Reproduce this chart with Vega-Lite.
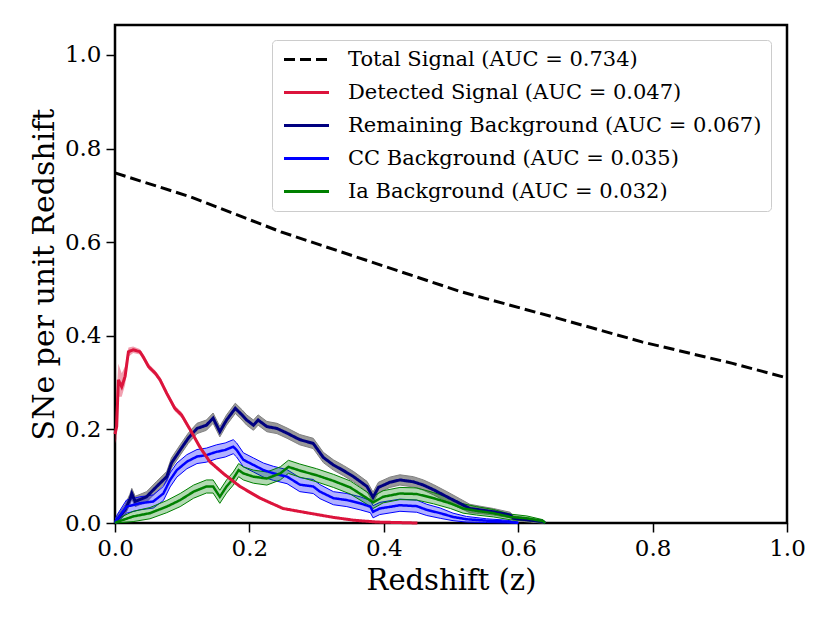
{
  "$schema": "https://vega.github.io/schema/vega-lite/v6.json",
  "width": 672,
  "height": 498,
  "autosize": "none",
  "padding": {"left": 115, "top": 25, "right": 43, "bottom": 100},
  "config": {
    "view": {"stroke": "black", "strokeWidth": 2.5},
    "font": "DejaVu Serif",
    "axis": {
      "domain": false,
      "grid": false,
      "labelFlush": false,
      "tickColor": "black",
      "tickSize": 9,
      "tickWidth": 1.5,
      "labelFont": "DejaVu Serif",
      "labelFontSize": 23,
      "labelColor": "black",
      "labelPadding": 5,
      "titleFont": "DejaVu Serif",
      "titleFontSize": 29,
      "titleFontWeight": "normal",
      "titleColor": "black"
    }
  },
  "datasets": {
    "total": [
      {"z": 0.0, "y": 0.748},
      {"z": 0.112, "y": 0.697},
      {"z": 0.247, "y": 0.622},
      {"z": 0.381, "y": 0.558},
      {"z": 0.515, "y": 0.494},
      {"z": 0.65, "y": 0.441},
      {"z": 0.784, "y": 0.387},
      {"z": 0.919, "y": 0.341},
      {"z": 1.0, "y": 0.31}
    ],
    "detected": [
      {"z": 0.0, "y": 0.19, "lo": 0.17, "hi": 0.21},
      {"z": 0.0025, "y": 0.206, "lo": 0.18, "hi": 0.28},
      {"z": 0.005, "y": 0.306, "lo": 0.27, "hi": 0.34},
      {"z": 0.01, "y": 0.291, "lo": 0.27, "hi": 0.32},
      {"z": 0.015, "y": 0.313, "lo": 0.295, "hi": 0.335},
      {"z": 0.02, "y": 0.366, "lo": 0.355, "hi": 0.375},
      {"z": 0.027, "y": 0.37, "lo": 0.363, "hi": 0.377},
      {"z": 0.037, "y": 0.366, "lo": 0.36, "hi": 0.372},
      {"z": 0.042, "y": 0.355, "lo": 0.349, "hi": 0.361},
      {"z": 0.05, "y": 0.334, "lo": 0.328, "hi": 0.34},
      {"z": 0.06, "y": 0.32, "lo": 0.314, "hi": 0.326},
      {"z": 0.067, "y": 0.306, "lo": 0.3, "hi": 0.312},
      {"z": 0.077, "y": 0.277, "lo": 0.271, "hi": 0.283},
      {"z": 0.089, "y": 0.245, "lo": 0.239, "hi": 0.251},
      {"z": 0.099, "y": 0.231, "lo": 0.225, "hi": 0.237},
      {"z": 0.112, "y": 0.199, "lo": 0.194, "hi": 0.204},
      {"z": 0.126, "y": 0.163, "lo": 0.158, "hi": 0.168},
      {"z": 0.141, "y": 0.131, "lo": 0.127, "hi": 0.135},
      {"z": 0.161, "y": 0.106, "lo": 0.102, "hi": 0.11},
      {"z": 0.186, "y": 0.078, "lo": 0.075, "hi": 0.081},
      {"z": 0.216, "y": 0.053, "lo": 0.05, "hi": 0.056},
      {"z": 0.25, "y": 0.031, "lo": 0.029, "hi": 0.033},
      {"z": 0.285, "y": 0.022, "lo": 0.02, "hi": 0.024},
      {"z": 0.325, "y": 0.012, "lo": 0.011, "hi": 0.013},
      {"z": 0.355, "y": 0.006, "lo": 0.005, "hi": 0.007},
      {"z": 0.39, "y": 0.002, "lo": 0.001, "hi": 0.003},
      {"z": 0.45, "y": 0.0, "lo": 0.0, "hi": 0.001}
    ],
    "remaining": [
      {"z": 0.0, "y": 0.0, "lo": 0.0, "hi": 0.004},
      {"z": 0.0025, "y": 0.006, "lo": 0.0, "hi": 0.014},
      {"z": 0.015, "y": 0.028, "lo": 0.018, "hi": 0.039},
      {"z": 0.022, "y": 0.05, "lo": 0.039, "hi": 0.061},
      {"z": 0.025, "y": 0.063, "lo": 0.052, "hi": 0.074},
      {"z": 0.03, "y": 0.046, "lo": 0.035, "hi": 0.057},
      {"z": 0.047, "y": 0.056, "lo": 0.045, "hi": 0.067},
      {"z": 0.062, "y": 0.078, "lo": 0.067, "hi": 0.089},
      {"z": 0.077, "y": 0.099, "lo": 0.088, "hi": 0.11},
      {"z": 0.084, "y": 0.128, "lo": 0.117, "hi": 0.139},
      {"z": 0.097, "y": 0.156, "lo": 0.145, "hi": 0.167},
      {"z": 0.109, "y": 0.181, "lo": 0.17, "hi": 0.192},
      {"z": 0.122, "y": 0.202, "lo": 0.191, "hi": 0.213},
      {"z": 0.136, "y": 0.209, "lo": 0.198, "hi": 0.22},
      {"z": 0.146, "y": 0.224, "lo": 0.213, "hi": 0.235},
      {"z": 0.156, "y": 0.195, "lo": 0.184, "hi": 0.206},
      {"z": 0.166, "y": 0.22, "lo": 0.209, "hi": 0.231},
      {"z": 0.179, "y": 0.245, "lo": 0.234, "hi": 0.256},
      {"z": 0.189, "y": 0.231, "lo": 0.22, "hi": 0.242},
      {"z": 0.196, "y": 0.22, "lo": 0.209, "hi": 0.231},
      {"z": 0.206, "y": 0.209, "lo": 0.198, "hi": 0.22},
      {"z": 0.213, "y": 0.22, "lo": 0.209, "hi": 0.231},
      {"z": 0.226, "y": 0.206, "lo": 0.195, "hi": 0.217},
      {"z": 0.241, "y": 0.202, "lo": 0.191, "hi": 0.213},
      {"z": 0.256, "y": 0.192, "lo": 0.181, "hi": 0.203},
      {"z": 0.275, "y": 0.178, "lo": 0.167, "hi": 0.189},
      {"z": 0.295, "y": 0.17, "lo": 0.159, "hi": 0.181},
      {"z": 0.31, "y": 0.14, "lo": 0.129, "hi": 0.151},
      {"z": 0.325, "y": 0.124, "lo": 0.113, "hi": 0.135},
      {"z": 0.34, "y": 0.112, "lo": 0.101, "hi": 0.123},
      {"z": 0.355, "y": 0.099, "lo": 0.088, "hi": 0.11},
      {"z": 0.375, "y": 0.078, "lo": 0.067, "hi": 0.089},
      {"z": 0.384, "y": 0.055, "lo": 0.044, "hi": 0.066},
      {"z": 0.392, "y": 0.076, "lo": 0.065, "hi": 0.087},
      {"z": 0.409, "y": 0.087, "lo": 0.076, "hi": 0.098},
      {"z": 0.424, "y": 0.092, "lo": 0.081, "hi": 0.103},
      {"z": 0.444, "y": 0.088, "lo": 0.077, "hi": 0.099},
      {"z": 0.459, "y": 0.081, "lo": 0.07, "hi": 0.092},
      {"z": 0.474, "y": 0.071, "lo": 0.06, "hi": 0.082},
      {"z": 0.494, "y": 0.056, "lo": 0.045, "hi": 0.067},
      {"z": 0.513, "y": 0.042, "lo": 0.032, "hi": 0.052},
      {"z": 0.528, "y": 0.031, "lo": 0.022, "hi": 0.04},
      {"z": 0.543, "y": 0.028, "lo": 0.02, "hi": 0.036},
      {"z": 0.563, "y": 0.024, "lo": 0.017, "hi": 0.031},
      {"z": 0.588, "y": 0.017, "lo": 0.011, "hi": 0.023},
      {"z": 0.593, "y": 0.01, "lo": 0.005, "hi": 0.015},
      {"z": 0.618, "y": 0.006, "lo": 0.002, "hi": 0.01},
      {"z": 0.637, "y": 0.003, "lo": 0.0, "hi": 0.006},
      {"z": 0.64, "y": 0.0, "lo": 0.0, "hi": 0.002}
    ],
    "cc": [
      {"z": 0.0, "y": 0.0, "lo": 0.0, "hi": 0.004},
      {"z": 0.0025, "y": 0.006, "lo": 0.0, "hi": 0.016},
      {"z": 0.017, "y": 0.035, "lo": 0.021, "hi": 0.049},
      {"z": 0.037, "y": 0.042, "lo": 0.028, "hi": 0.056},
      {"z": 0.057, "y": 0.046, "lo": 0.032, "hi": 0.06},
      {"z": 0.072, "y": 0.063, "lo": 0.048, "hi": 0.078},
      {"z": 0.082, "y": 0.092, "lo": 0.077, "hi": 0.107},
      {"z": 0.092, "y": 0.113, "lo": 0.098, "hi": 0.128},
      {"z": 0.107, "y": 0.131, "lo": 0.116, "hi": 0.146},
      {"z": 0.122, "y": 0.142, "lo": 0.127, "hi": 0.157},
      {"z": 0.136, "y": 0.145, "lo": 0.13, "hi": 0.16},
      {"z": 0.151, "y": 0.152, "lo": 0.137, "hi": 0.167},
      {"z": 0.164, "y": 0.156, "lo": 0.141, "hi": 0.171},
      {"z": 0.176, "y": 0.163, "lo": 0.148, "hi": 0.178},
      {"z": 0.181, "y": 0.156, "lo": 0.141, "hi": 0.171},
      {"z": 0.191, "y": 0.135, "lo": 0.12, "hi": 0.15},
      {"z": 0.206, "y": 0.124, "lo": 0.109, "hi": 0.139},
      {"z": 0.221, "y": 0.113, "lo": 0.098, "hi": 0.128},
      {"z": 0.236, "y": 0.106, "lo": 0.091, "hi": 0.121},
      {"z": 0.256, "y": 0.099, "lo": 0.084, "hi": 0.114},
      {"z": 0.275, "y": 0.082, "lo": 0.067, "hi": 0.097},
      {"z": 0.295, "y": 0.078, "lo": 0.063, "hi": 0.093},
      {"z": 0.305, "y": 0.067, "lo": 0.052, "hi": 0.082},
      {"z": 0.325, "y": 0.053, "lo": 0.039, "hi": 0.067},
      {"z": 0.345, "y": 0.049, "lo": 0.035, "hi": 0.063},
      {"z": 0.365, "y": 0.042, "lo": 0.028, "hi": 0.056},
      {"z": 0.38, "y": 0.035, "lo": 0.022, "hi": 0.048},
      {"z": 0.384, "y": 0.024, "lo": 0.011, "hi": 0.037},
      {"z": 0.394, "y": 0.031, "lo": 0.018, "hi": 0.044},
      {"z": 0.424, "y": 0.038, "lo": 0.025, "hi": 0.051},
      {"z": 0.449, "y": 0.036, "lo": 0.023, "hi": 0.049},
      {"z": 0.464, "y": 0.028, "lo": 0.016, "hi": 0.04},
      {"z": 0.484, "y": 0.021, "lo": 0.01, "hi": 0.032},
      {"z": 0.503, "y": 0.013, "lo": 0.005, "hi": 0.021},
      {"z": 0.523, "y": 0.008, "lo": 0.002, "hi": 0.014},
      {"z": 0.553, "y": 0.005, "lo": 0.001, "hi": 0.009},
      {"z": 0.583, "y": 0.003, "lo": 0.0, "hi": 0.006},
      {"z": 0.6, "y": 0.0, "lo": 0.0, "hi": 0.002}
    ],
    "ia": [
      {"z": 0.0, "y": 0.0, "lo": 0.0, "hi": 0.003},
      {"z": 0.0025, "y": 0.002, "lo": 0.0, "hi": 0.008},
      {"z": 0.027, "y": 0.014, "lo": 0.003, "hi": 0.025},
      {"z": 0.052, "y": 0.021, "lo": 0.009, "hi": 0.033},
      {"z": 0.077, "y": 0.035, "lo": 0.022, "hi": 0.048},
      {"z": 0.097, "y": 0.049, "lo": 0.035, "hi": 0.063},
      {"z": 0.117, "y": 0.067, "lo": 0.053, "hi": 0.081},
      {"z": 0.136, "y": 0.078, "lo": 0.064, "hi": 0.092},
      {"z": 0.146, "y": 0.078, "lo": 0.064, "hi": 0.092},
      {"z": 0.156, "y": 0.056, "lo": 0.042, "hi": 0.07},
      {"z": 0.166, "y": 0.078, "lo": 0.064, "hi": 0.092},
      {"z": 0.176, "y": 0.095, "lo": 0.081, "hi": 0.109},
      {"z": 0.184, "y": 0.113, "lo": 0.099, "hi": 0.127},
      {"z": 0.191, "y": 0.106, "lo": 0.092, "hi": 0.12},
      {"z": 0.206, "y": 0.099, "lo": 0.085, "hi": 0.113},
      {"z": 0.226, "y": 0.095, "lo": 0.081, "hi": 0.109},
      {"z": 0.246, "y": 0.106, "lo": 0.092, "hi": 0.12},
      {"z": 0.258, "y": 0.12, "lo": 0.106, "hi": 0.134},
      {"z": 0.275, "y": 0.112, "lo": 0.098, "hi": 0.126},
      {"z": 0.3, "y": 0.102, "lo": 0.088, "hi": 0.116},
      {"z": 0.325, "y": 0.09, "lo": 0.076, "hi": 0.104},
      {"z": 0.35, "y": 0.076, "lo": 0.062, "hi": 0.09},
      {"z": 0.375, "y": 0.053, "lo": 0.04, "hi": 0.066},
      {"z": 0.384, "y": 0.044, "lo": 0.031, "hi": 0.057},
      {"z": 0.399, "y": 0.056, "lo": 0.043, "hi": 0.069},
      {"z": 0.424, "y": 0.063, "lo": 0.05, "hi": 0.076},
      {"z": 0.449, "y": 0.062, "lo": 0.049, "hi": 0.075},
      {"z": 0.474, "y": 0.053, "lo": 0.041, "hi": 0.065},
      {"z": 0.499, "y": 0.042, "lo": 0.031, "hi": 0.053},
      {"z": 0.518, "y": 0.031, "lo": 0.021, "hi": 0.041},
      {"z": 0.538, "y": 0.026, "lo": 0.017, "hi": 0.035},
      {"z": 0.563, "y": 0.021, "lo": 0.013, "hi": 0.029},
      {"z": 0.588, "y": 0.013, "lo": 0.007, "hi": 0.019},
      {"z": 0.613, "y": 0.01, "lo": 0.005, "hi": 0.015},
      {"z": 0.637, "y": 0.004, "lo": 0.001, "hi": 0.007},
      {"z": 0.64, "y": 0.0, "lo": 0.0, "hi": 0.002}
    ]
  },
  "encoding": {
    "x": {
      "field": "z",
      "type": "quantitative",
      "title": "Redshift (z)",
      "scale": {"domain": [0, 1], "nice": false, "padding": 0},
      "axis": {"values": [0, 0.2, 0.4, 0.6, 0.8, 1.0], "format": ".1f", "titlePadding": 6}
    },
    "y": {
      "field": "y",
      "type": "quantitative",
      "title": "SNe per unit Redshift",
      "scale": {"domain": [0, 1.064], "nice": false, "padding": 0},
      "axis": {"values": [0, 0.2, 0.4, 0.6, 0.8, 1.0], "format": ".1f", "titlePadding": 5, "titleFontSize": 30}
    }
  },
  "layer": [
    {
      "data": {"name": "remaining"},
      "mark": {"type": "area", "fill": "#808080", "fillOpacity": 0.8, "stroke": "#808080", "strokeWidth": 1},
      "encoding": {"y": {"field": "lo", "type": "quantitative"}, "y2": {"field": "hi"}}
    },
    {
      "data": {"name": "cc"},
      "mark": {"type": "area", "fill": "#0000ff", "fillOpacity": 0.3, "stroke": "#0000ff", "strokeWidth": 1},
      "encoding": {"y": {"field": "lo", "type": "quantitative"}, "y2": {"field": "hi"}}
    },
    {
      "data": {"name": "ia"},
      "mark": {"type": "area", "fill": "#008000", "fillOpacity": 0.3, "stroke": "#008000", "strokeWidth": 1},
      "encoding": {"y": {"field": "lo", "type": "quantitative"}, "y2": {"field": "hi"}}
    },
    {
      "data": {"name": "remaining"},
      "mark": {"type": "line", "strokeWidth": 3},
      "encoding": {
        "color": {
          "datum": "Remaining Background (AUC = 0.067)",
          "scale": {
            "domain": [
              "Total Signal (AUC = 0.734)",
              "Detected Signal (AUC = 0.047)",
              "Remaining Background (AUC = 0.067)",
              "CC Background (AUC = 0.035)",
              "Ia Background (AUC = 0.032)"
            ],
            "range": ["#000000", "#dc143c", "#000080", "#0000ff", "#008000"]
          },
          "legend": {
            "title": null,
            "orient": "none",
            "legendX": 157,
            "legendY": 15,
            "symbolType": "M-1,0H5",
            "symbolSize": 225,
            "symbolStrokeWidth": 3,
            "labelFont": "DejaVu Serif",
            "labelFontSize": 21,
            "labelColor": "black",
            "labelLimit": 0,
            "labelOffset": 46,
            "padding": 9,
            "rowPadding": 11,
            "fillColor": "white",
            "strokeColor": "#cccccc",
            "cornerRadius": 4
          }
        },
        "strokeDash": {
          "datum": "Remaining Background (AUC = 0.067)",
          "scale": {
            "domain": [
              "Total Signal (AUC = 0.734)",
              "Detected Signal (AUC = 0.047)",
              "Remaining Background (AUC = 0.067)",
              "CC Background (AUC = 0.035)",
              "Ia Background (AUC = 0.032)"
            ],
            "range": [[11, 5], [1, 0], [1, 0], [1, 0], [1, 0]]
          }
        }
      }
    },
    {
      "data": {"name": "cc"},
      "mark": {"type": "line", "strokeWidth": 2.5},
      "encoding": {
        "color": {"datum": "CC Background (AUC = 0.035)"},
        "strokeDash": {"datum": "CC Background (AUC = 0.035)"}
      }
    },
    {
      "data": {"name": "ia"},
      "mark": {"type": "line", "strokeWidth": 2.5},
      "encoding": {
        "color": {"datum": "Ia Background (AUC = 0.032)"},
        "strokeDash": {"datum": "Ia Background (AUC = 0.032)"}
      }
    },
    {
      "data": {"name": "detected"},
      "mark": {"type": "area", "fill": "#dc143c", "fillOpacity": 0.4},
      "encoding": {"y": {"field": "lo", "type": "quantitative"}, "y2": {"field": "hi"}}
    },
    {
      "data": {"name": "detected"},
      "mark": {"type": "line", "strokeWidth": 3},
      "encoding": {
        "color": {"datum": "Detected Signal (AUC = 0.047)"},
        "strokeDash": {"datum": "Detected Signal (AUC = 0.047)"}
      }
    },
    {
      "data": {"name": "total"},
      "mark": {"type": "line", "strokeWidth": 3},
      "encoding": {
        "color": {"datum": "Total Signal (AUC = 0.734)"},
        "strokeDash": {"datum": "Total Signal (AUC = 0.734)"}
      }
    }
  ]
}
